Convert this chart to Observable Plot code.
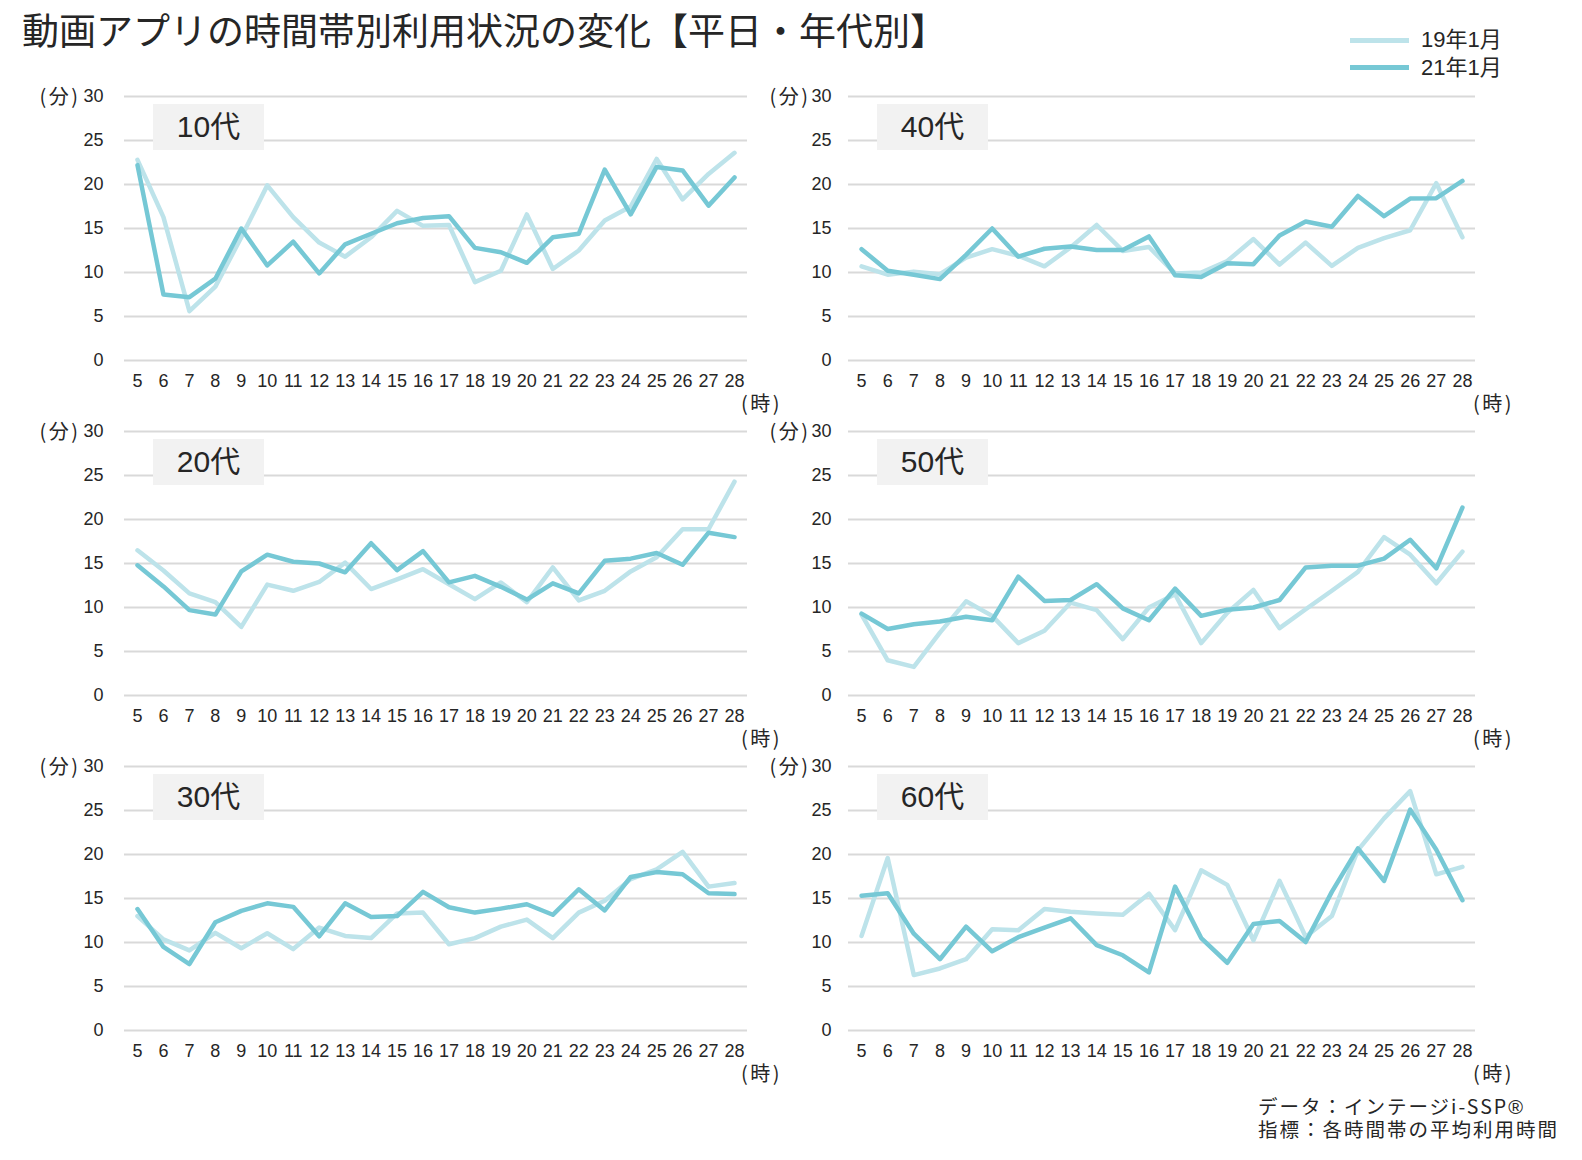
<!DOCTYPE html>
<html lang="ja">
<head>
<meta charset="utf-8">
<script src="https://cdn.jsdelivr.net/npm/d3@7"></script>
<script src="https://cdn.jsdelivr.net/npm/@observablehq/plot@0.6"></script>
<style>
  body { margin: 0; background: #fff; }
  #page {
    position: relative; width: 1582px; height: 1160px; overflow: hidden; background: #fff;
    font-family: "Liberation Sans", "Noto Sans CJK JP", sans-serif; color: #262626;
  }
  .abs { position: absolute; }
  .title {
    left: 22px; top: 11px; font-family: "Noto Sans CJK JP", sans-serif; font-size: 37px;
    line-height: 37px; white-space: nowrap;
  }
  .swatch { width: 59px; height: 5px; }
  .legtext { font-size: 22px; line-height: 24px; white-space: nowrap; }
  .agebox {
    width: 111px; height: 46px; background: #f2f2f2; font-size: 30px; line-height: 46px;
    text-align: center; color: #262626;
  }
  .caption {
    left: 1258px; font-family: "Noto Sans CJK JP", sans-serif; font-size: 19.5px;
    height: 21px; line-height: 21px; letter-spacing: 2px; white-space: nowrap;
  }
  .caption .reg { font-family: "Liberation Sans", sans-serif; font-size: 20px; letter-spacing: 0; }
</style>
</head>
<body>
<div id="page"></div>
<script>
// Hour of day (5時〜28時), weekday average viewing minutes per hour
const hours = [5, 6, 7, 8, 9, 10, 11, 12, 13, 14, 15, 16, 17, 18, 19, 20, 21, 22, 23, 24, 25, 26, 27, 28];
const seriesNames = ["19年1月", "21年1月"];
const ageGroups = ["10代", "20代", "30代", "40代", "50代", "60代"];
const yTicks = [0, 5, 10, 15, 20, 25, 30];

const teens19 = [22.8, 16.3, 5.6, 8.4, 14.0, 19.9, 16.3, 13.4, 11.8, 14.0, 17.0, 15.3, 15.4, 8.9, 10.2, 16.6, 10.4, 12.5, 15.9, 17.5, 22.9, 18.3, 21.2, 23.6];
const teens21 = [22.2, 7.5, 7.2, 9.3, 15.0, 10.8, 13.5, 9.9, 13.2, 14.4, 15.6, 16.2, 16.4, 12.8, 12.3, 11.1, 14.0, 14.4, 21.7, 16.6, 22.0, 21.6, 17.6, 20.8];

const twenties19 = [16.5, 14.2, 11.6, 10.6, 7.8, 12.6, 11.9, 12.9, 15.1, 12.1, 13.2, 14.35, 12.65, 10.95, 12.85, 10.6, 14.55, 10.8, 11.9, 14.1, 15.7, 18.9, 18.9, 24.3];
const twenties21 = [14.8, 12.4, 9.7, 9.2, 14.1, 16.0, 15.2, 15.0, 14.0, 17.3, 14.25, 16.4, 12.85, 13.6, 12.35, 10.9, 12.75, 11.6, 15.3, 15.55, 16.2, 14.85, 18.5, 18.0];

const thirties19 = [13.0, 10.35, 9.1, 11.1, 9.35, 11.05, 9.25, 11.7, 10.75, 10.5, 13.3, 13.4, 9.8, 10.5, 11.8, 12.6, 10.5, 13.4, 14.75, 17.2, 18.3, 20.3, 16.35, 16.75];
const thirties21 = [13.8, 9.5, 7.55, 12.3, 13.6, 14.45, 14.05, 10.7, 14.45, 12.9, 13.0, 15.75, 14.0, 13.4, 13.85, 14.35, 13.15, 16.05, 13.65, 17.45, 18.0, 17.75, 15.6, 15.5];

const forties19 = [10.7, 9.75, 10.1, 9.8, 11.7, 12.65, 11.9, 10.7, 12.85, 15.4, 12.45, 12.9, 9.9, 10.0, 11.3, 13.8, 10.9, 13.4, 10.75, 12.8, 13.9, 14.8, 20.15, 14.0];
const forties21 = [12.65, 10.2, 9.75, 9.25, 12.0, 15.0, 11.8, 12.7, 12.95, 12.55, 12.55, 14.1, 9.7, 9.5, 11.05, 10.95, 14.2, 15.8, 15.2, 18.7, 16.4, 18.4, 18.45, 20.4];

const fifties19 = [9.2, 4.0, 3.25, 7.15, 10.7, 9.05, 5.95, 7.35, 10.55, 9.7, 6.4, 10.0, 11.5, 5.95, 9.4, 12.0, 7.65, 9.8, 11.9, 14.05, 18.0, 16.0, 12.75, 16.35];
const fifties21 = [9.3, 7.55, 8.1, 8.4, 8.95, 8.55, 13.5, 10.75, 10.85, 12.65, 9.9, 8.55, 12.15, 9.05, 9.75, 10.0, 10.85, 14.55, 14.75, 14.75, 15.55, 17.7, 14.45, 21.35];

const sixties19 = [10.75, 19.6, 6.3, 7.05, 8.1, 11.5, 11.4, 13.8, 13.5, 13.3, 13.15, 15.55, 11.4, 18.2, 16.55, 10.25, 17.0, 10.65, 13.0, 20.5, 24.1, 27.2, 17.75, 18.6];
const sixties21 = [15.3, 15.6, 11.0, 8.1, 11.8, 9.0, 10.6, 11.7, 12.75, 9.7, 8.55, 6.6, 16.35, 10.5, 7.7, 12.1, 12.45, 10.05, 15.75, 20.7, 17.0, 25.1, 20.55, 14.8];

const seriesByAge = {
  "10代": [teens19, teens21],
  "20代": [twenties19, twenties21],
  "30代": [thirties19, thirties21],
  "40代": [forties19, forties21],
  "50代": [fifties19, fifties21],
  "60代": [sixties19, sixties21]
};

const colors = { "19年1月": "#bde3ea", "21年1月": "#76c8d5" };

// Panel geometry: two columns of three stacked panels
const columns = [
  { svgLeft: 0, svgWidth: 800, frameLeft: 124, frameRight: 747, tickPad: 21, unitDx: -44, hourDx: 14 },
  { svgLeft: 724, svgWidth: 858, frameLeft: 848, frameRight: 1475, tickPad: 17, unitDx: -38, hourDx: 18 }
];
const rowTops = [95.7, 430.7, 765.7];
const plotHeight = 264;
const padTop = 20, padBottom = 62;

const page = document.getElementById("page");

function addDiv(cls, text, style) {
  const d = document.createElement("div");
  d.className = "abs " + cls;
  if (text != null) d.textContent = text;
  Object.assign(d.style, style || {});
  page.appendChild(d);
  return d;
}

// Title
addDiv("title", "動画アプリの時間帯別利用状況の変化【平日・年代別】");

// Legend
seriesNames.forEach((name, i) => {
  const cy = 40 + i * 27.5;
  addDiv("swatch", null, { left: "1350px", top: (cy - 2.5) + "px", background: colors[name] });
  addDiv("legtext", name, { left: "1421px", top: (cy - 12) + "px" });
});

// Panels
ageGroups.forEach((age, idx) => {
  const col = columns[Math.floor(idx / 3)];
  const row = idx % 3;
  const frameTop = rowTops[row];
  const [v19, v21] = seriesByAge[age];
  const data = [
    ...hours.map((h, i) => ({ hour: h, value: v19[i], series: seriesNames[0] })),
    ...hours.map((h, i) => ({ hour: h, value: v21[i], series: seriesNames[1] }))
  ];

  const chart = Plot.plot({
    width: col.svgWidth,
    height: padTop + plotHeight + padBottom,
    marginLeft: col.frameLeft - col.svgLeft,
    marginRight: col.svgLeft + col.svgWidth - col.frameRight,
    marginTop: padTop,
    marginBottom: padBottom,
    style: {
      fontFamily: '"Liberation Sans", "Noto Sans CJK JP", sans-serif',
      fontSize: "18px",
      color: "#262626",
      background: "transparent",
      overflow: "visible"
    },
    x: { type: "point", domain: hours, padding: 0.5, round: false, label: null },
    y: { domain: [0, 30], label: null },
    marks: [
      Plot.gridY(yTicks, { stroke: "#d9d9d9", strokeOpacity: 1, strokeWidth: 2 }),
      Plot.axisY(yTicks, { tickSize: 0, tickPadding: col.tickPad, label: null, fill: "#262626" }),
      Plot.axisX(hours, { tickSize: 0, tickPadding: 14, label: null, fill: "#262626" }),
      Plot.line(data.filter(d => d.series === seriesNames[0]), {
        x: "hour", y: "value", stroke: colors[seriesNames[0]], strokeWidth: 4.5
      }),
      Plot.line(data.filter(d => d.series === seriesNames[1]), {
        x: "hour", y: "value", stroke: colors[seriesNames[1]], strokeWidth: 4.5
      }),
      Plot.text(["(分)"], {
        text: d => d, frameAnchor: "top-left", textAnchor: "end", dx: col.unitDx, dy: -7,
        fontFamily: "Noto Sans CJK JP", fontSize: 20, fill: "#262626"
      }),
      Plot.text(["(時)"], {
        text: d => d, frameAnchor: "bottom-right", textAnchor: "middle", dx: col.hourDx, dy: 50,
        fontFamily: "Noto Sans CJK JP", fontSize: 20, fill: "#262626"
      })
    ]
  });

  // Slightly wider spacing for the unit labels
  d3.select(chart).selectAll("text")
    .filter(function () { return this.textContent === "(分)" || this.textContent === "(時)"; })
    .style("letter-spacing", "2.5px");

  const wrap = document.createElement("div");
  wrap.className = "abs";
  wrap.style.left = col.svgLeft + "px";
  wrap.style.top = (frameTop - padTop) + "px";
  wrap.appendChild(chart);
  page.appendChild(wrap);

  // Age-group label box in the panel's upper-left corner
  addDiv("agebox", age, { left: (col.frameLeft + 29) + "px", top: (frameTop + 8.5) + "px" });
});

// Source note
addDiv("caption", null, { top: "1095px" }).innerHTML = 'データ：インテージi-SSP<span class="reg">®</span>';
addDiv("caption", "指標：各時間帯の平均利用時間", { top: "1118px" });
</script>
</body>
</html>
